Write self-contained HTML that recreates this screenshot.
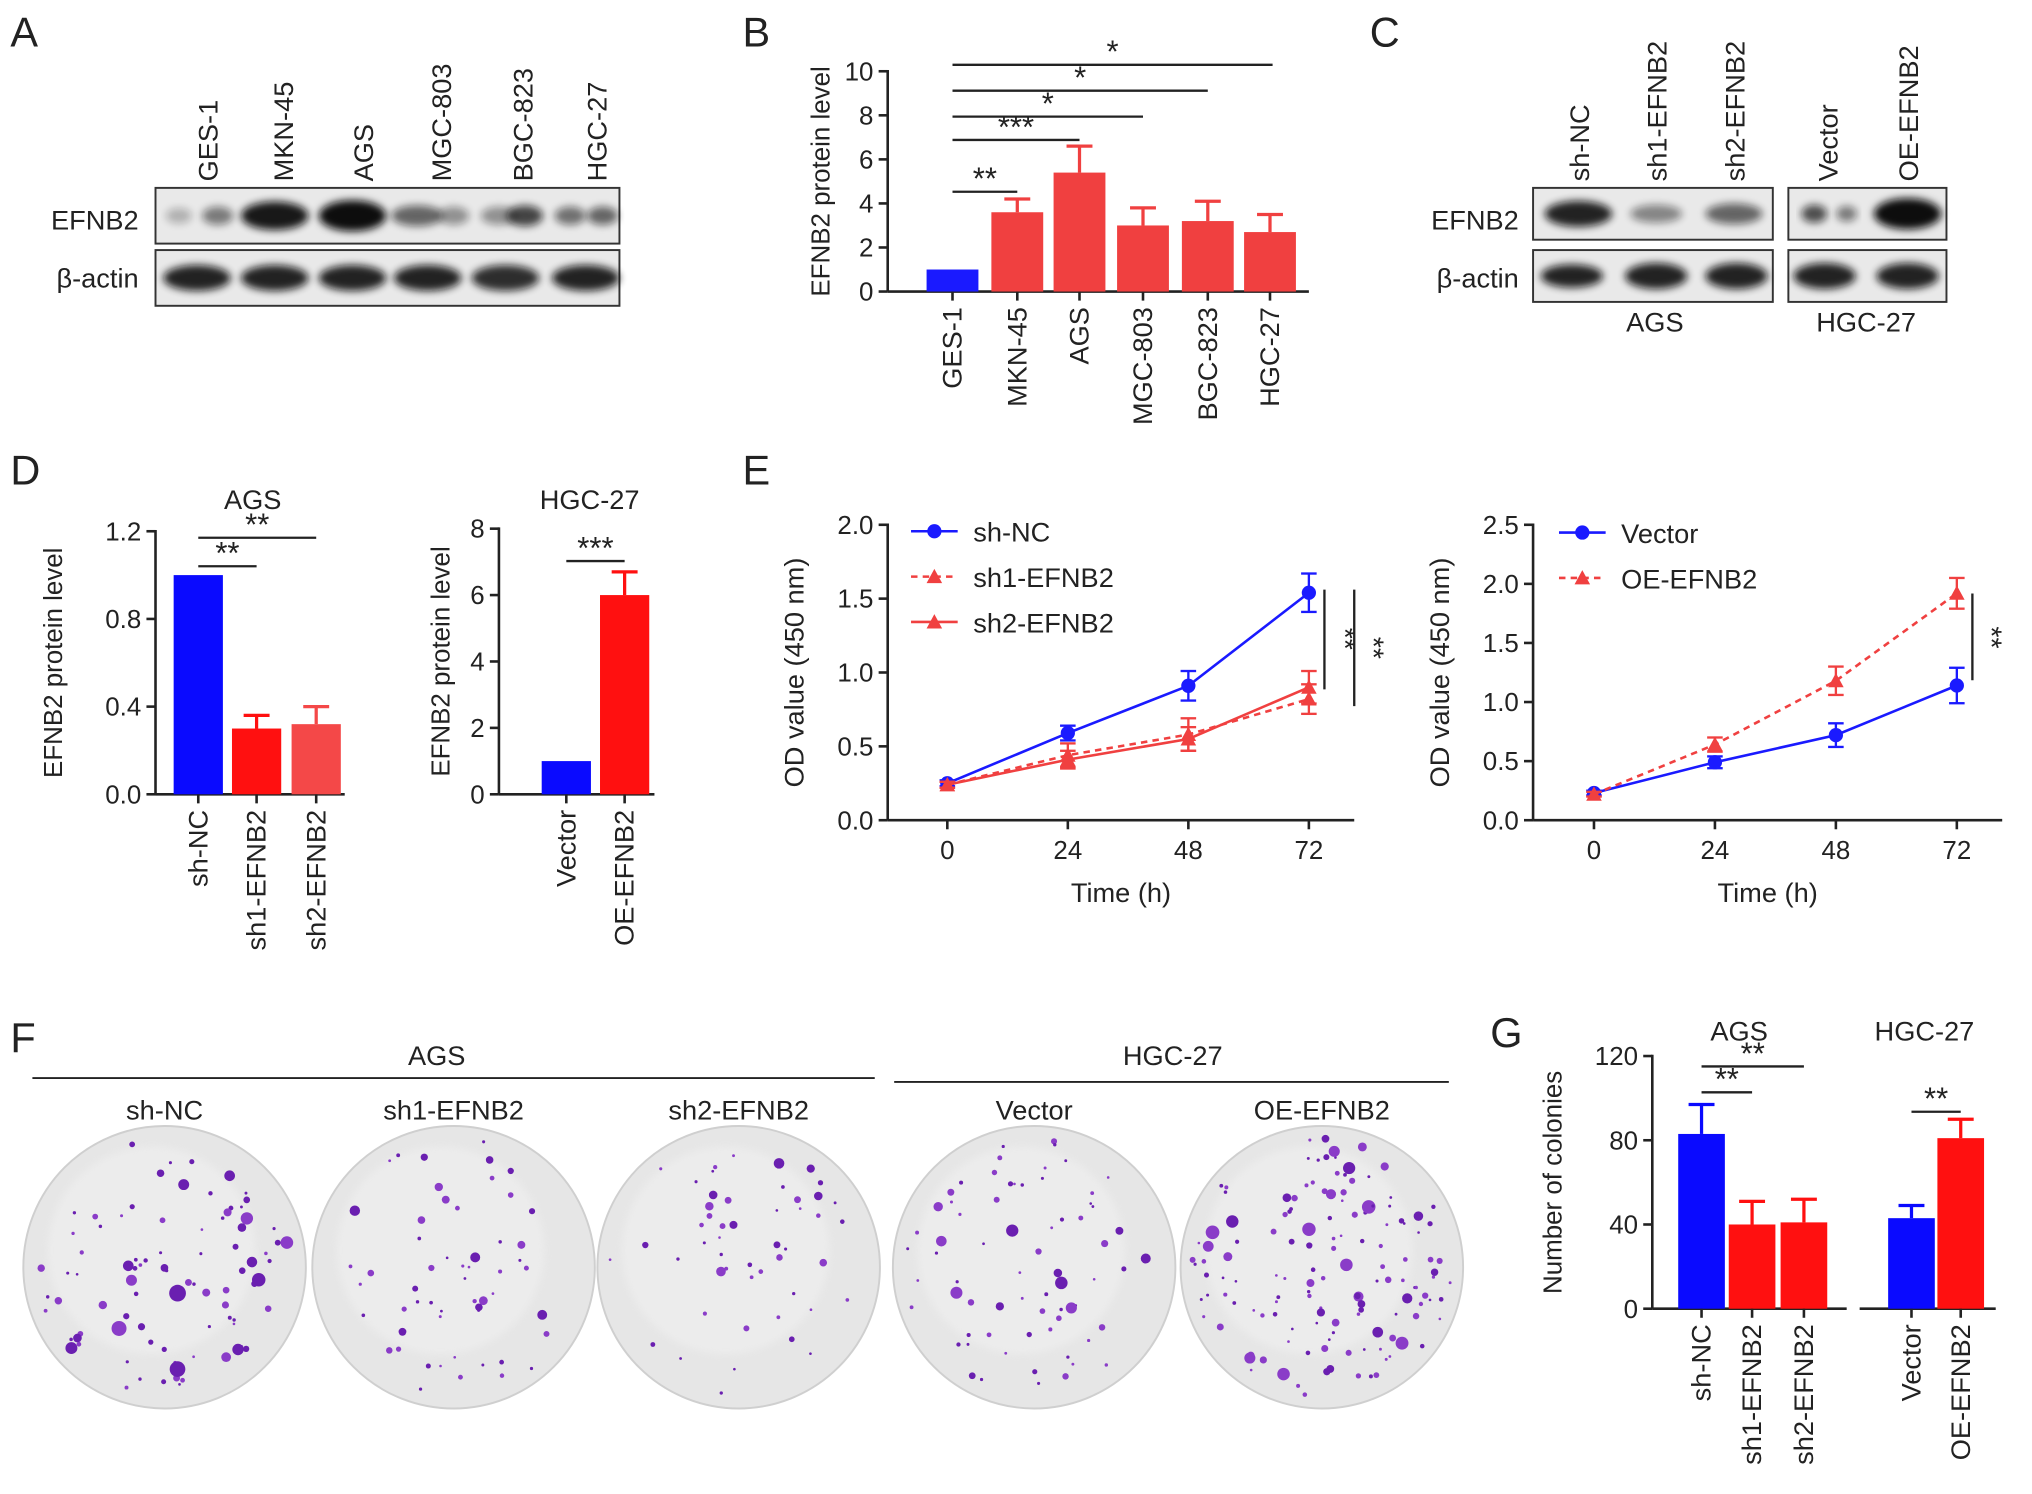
<!DOCTYPE html>
<html><head><meta charset="utf-8">
<style>
html,body{margin:0;padding:0;background:#fff;}
svg{display:block;font-family:"Liberation Sans",Arial,sans-serif;}
</style></head>
<body>
<svg id="fig" width="2032" height="1494" viewBox="0 0 1568 1153" preserveAspectRatio="none" xmlns="http://www.w3.org/2000/svg">
<defs>
<filter id="blur" x="-20%" y="-50%" width="140%" height="200%"><feGaussianBlur stdDeviation="3"/></filter>
<filter id="blur2"><feGaussianBlur stdDeviation="0.8"/></filter>
</defs>
</svg>
<script>
// ---- data ----
const bCats = ['GES-1','MKN-45','AGS','MGC-803','BGC-823','HGC-27'];
const bVals = [1.0, 3.6, 5.4, 3.0, 3.2, 2.7];
const bErrs = [0, 0.6, 1.2, 0.8, 0.9, 0.8];
const bTicks = [0,2,4,6,8,10];

const dAgsCats = ['sh-NC','sh1-EFNB2','sh2-EFNB2'];
const dAgsVals = [1.0, 0.30, 0.32];
const dAgsErrs = [0, 0.06, 0.08];
const dAgsTicks = ['0.0','0.4','0.8','1.2'];
const dHgcCats = ['Vector','OE-EFNB2'];
const dHgcVals = [1.0, 6.0];
const dHgcErrs = [0, 0.7];
const dHgcTicks = [0,2,4,6,8];

const eTimes = [0,24,48,72];
const eShNC = [0.25,0.59,0.91,1.54];
const eShNCErr = [0.02,0.05,0.10,0.13];
const eSh1 = [0.24,0.44,0.58,0.82];
const eSh1Err = [0.02,0.08,0.11,0.10];
const eSh2 = [0.24,0.41,0.55,0.90];
const eSh2Err = [0.02,0.06,0.08,0.11];
const eLeftTicks = ['0.0','0.5','1.0','1.5','2.0'];
const eVector = [0.23,0.49,0.72,1.14];
const eVectorErr = [0.02,0.05,0.10,0.15];
const eOE = [0.22,0.64,1.18,1.92];
const eOEErr = [0.02,0.06,0.12,0.13];
const eRightTicks = ['0.0','0.5','1.0','1.5','2.0','2.5'];

const gCats = ['sh-NC','sh1-EFNB2','sh2-EFNB2','Vector','OE-EFNB2'];
const gVals = [83, 40, 41, 43, 81];
const gErrs = [14, 11, 11, 6, 9];
const gTicks = [0,40,80,120];

const svg = document.getElementById('fig');
const NS = 'http://www.w3.org/2000/svg';
function mk(tag, attrs, name, parent){
  const el = document.createElementNS(NS, tag);
  for (const k in attrs) el.setAttribute(k, attrs[k]);
  
  
  (parent||svg).appendChild(el);
  return el;
}
function txt(x,y,s,size,name,opts){
  opts=opts||{};
  const a={x:x,y:y,'font-size':size,fill:'#222','text-anchor':opts.anchor||'middle'};
  if(opts.rot!==undefined) a.transform='rotate('+opts.rot+' '+x+' '+y+')';
  if(opts.weight) a['font-weight']=opts.weight;
  if(opts.base) a['dominant-baseline']=opts.base;
  const t=mk('text',a,name);
  t.textContent=s; return t;
}
function line(x1,y1,x2,y2,name,w,col,dash){
  const a={x1:x1,y1:y1,x2:x2,y2:y2,stroke:col||'#222','stroke-width':w||2};
  if(dash) a['stroke-dasharray']=dash;
  return mk('line',a,name);
}
function panelLetter(x,y,s){ txt(x,y,s,32,'panel-label-'+s.toLowerCase(),{anchor:'start'}); }

// ---- Panel letters ----
panelLetter(8,36,'A');panelLetter(573,36,'B');panelLetter(1057,36,'C');
panelLetter(8,374,'D');panelLetter(573,374,'E');panelLetter(8,812,'F');panelLetter(1150,808,'G');

// ---- Blot helper ----
function blot(x,y,w,h,bands,name){
  mk('rect',{x:x,y:y,width:w,height:h,fill:'#e9e9e9',stroke:'#333','stroke-width':1.5},name);
  bands.forEach((b,i)=>{
    const e=mk('ellipse',{cx:b[0],cy:y+h/2,rx:b[1],ry:b[2],fill:'#111',opacity:b[3],filter:'url(#blur)'},name+'-band');
  });
}
// Panel A
const aLabels=['GES-1','MKN-45','AGS','MGC-803','BGC-823','HGC-27'];
const aX=[160,218,280,340,403,460];
aLabels.forEach((s,i)=>txt(aX[i]+8,140,s,21,'blot-a-lane-label',{anchor:'start',rot:-90}));
txt(107,177,'EFNB2',21,'blot-a-efnb2-label',{anchor:'end'});
txt(107,222,'β-actin',21,'blot-a-actin-label',{anchor:'end'});
blot(120,145,358,43,[[138,10,6,0.25],[168,12,7,0.5],[212,26,11,0.95],[272,26,12,1],[322,20,8,0.6],[350,12,7,0.4],[385,14,7,0.4],[405,14,8,0.75],[440,12,7,0.55],[465,12,7,0.6]],'blot-a-efnb2');
blot(120,193,358,43,[[152,26,10,0.9],[212,26,10,0.9],[272,26,10,0.9],[330,26,10,0.9],[390,26,10,0.85],[452,26,10,0.9]],'blot-a-actin');

// Panel C
const cLabels=['sh-NC','sh1-EFNB2','sh2-EFNB2','Vector','OE-EFNB2'];
const cX=[1218,1278,1338,1410,1472];
cLabels.forEach((s,i)=>txt(cX[i]+8,140,s,21,'blot-c-lane-label',{anchor:'start',rot:-90}));
txt(1172,177,'EFNB2',21,'blot-c-efnb2-label',{anchor:'end'});
txt(1172,222,'β-actin',21,'blot-c-actin-label',{anchor:'end'});
blot(1183,145,185,40,[[1218,26,10,0.9],[1278,20,7,0.45],[1338,22,8,0.6]],'blot-c-efnb2-ags');
blot(1183,193,185,40,[[1213,24,9,0.9],[1278,24,10,0.9],[1340,24,10,0.9]],'blot-c-actin-ags');
blot(1380,145,122,40,[[1400,10,7,0.7],[1425,8,6,0.5],[1472,26,12,1]],'blot-c-efnb2-hgc');
blot(1380,193,122,40,[[1408,24,10,0.9],[1472,24,10,0.9]],'blot-c-actin-hgc');
txt(1277,256,'AGS',21,'blot-c-ags-label');
txt(1440,256,'HGC-27',21,'blot-c-hgc-label');

// ---- Bar chart helper ----
function barChart(o){
  const y=v=>o.y0-(v-o.vmin)/(o.vmax-o.vmin)*(o.y0-o.y1);
  line(o.ax,o.y1-1,o.ax,o.y0,o.name+'-y-axis',2);
  o.axisX.forEach(seg=>line(seg[0],o.y0,seg[1],o.y0,o.name+'-x-axis',2));
  o.ticks.forEach(t=>{
    const v=parseFloat(t);
    line(o.ax-7,y(v),o.ax,y(v),o.name+'-y-tick',2);
    txt(o.ax-11,y(v)+7,String(t),20,o.name+'-y-tick-label',{anchor:'end'});
  });
  o.vals.forEach((v,i)=>{
    const cx=o.cx[i];
    if(o.errs[i]>0){
      line(cx,y(v),cx,y(v+o.errs[i]),o.name+'-error-bar',2.5,o.colors[i]);
      line(cx-10,y(v+o.errs[i]),cx+10,y(v+o.errs[i]),o.name+'-error-cap',2.5,o.colors[i]);
    }
    mk('rect',{x:cx-o.bw/2,y:y(v),width:o.bw,height:o.y0-y(v),fill:o.colors[i]},o.name+'-bar-'+o.cats[i].toLowerCase());
    line(cx,o.y0,cx,o.y0+7,o.name+'-x-tick',2);
    txt(cx+7,o.y0+12,o.cats[i],21,o.name+'-x-label',{anchor:'end',rot:-90});
  });
  txt(o.titleX,(o.y0+o.y1)/2,o.yTitle,20,o.name+'-y-axis-title',{rot:-90});
  return y;
}
function sig(x1,x2,yy,s,name){
  line(x1,yy,x2,yy,name,1.8);
  txt((x1+x2)/2,yy-2,s,24,name+'-stars');
}

// Panel B
barChart({name:'chart-b',ax:685,y0:225,y1:55,vmin:0,vmax:10,ticks:bTicks,axisX:[[685,1010]],
  cats:bCats,vals:bVals,errs:bErrs,cx:[735,785,833,882,932,980],bw:40,
  colors:['#1a1aff','#f04040','#f04040','#f04040','#f04040','#f04040'],yTitle:'EFNB2 protein level',titleX:640});
sig(735,785,148,'**','sig-b-mkn45');sig(735,833,108,'***','sig-b-ags');sig(735,882,90,'*','sig-b-mgc803');
sig(735,932,70,'*','sig-b-bgc823');sig(735,982,50,'*','sig-b-hgc27');

// Panel D
barChart({name:'chart-d-ags',ax:120,y0:613,y1:410,vmin:0,vmax:1.2,ticks:dAgsTicks,axisX:[[120,266]],
  cats:dAgsCats,vals:dAgsVals,errs:dAgsErrs,cx:[153,198,244],bw:38,
  colors:['#0a0aff','#ff1010','#f44848'],yTitle:'EFNB2 protein level',titleX:48});
txt(195,393,'AGS',21,'chart-d-ags-title');
sig(153,198,437,'**','sig-d-sh1');sig(153,244,415,'**','sig-d-sh2');
barChart({name:'chart-d-hgc',ax:385,y0:613,y1:408,vmin:0,vmax:8,ticks:dHgcTicks,axisX:[[385,505]],
  cats:dHgcCats,vals:dHgcVals,errs:dHgcErrs,cx:[437,482],bw:38,
  colors:['#0a0aff','#ff1010'],yTitle:'EFNB2 protein level',titleX:347});
txt(455,393,'HGC-27',21,'chart-d-hgc-title');
sig(437,482,433,'***','sig-d-oe');

// Panel G
barChart({name:'chart-g',ax:1275,y0:1010,y1:815,vmin:0,vmax:120,ticks:gTicks,axisX:[[1275,1425],[1435,1540]],
  cats:gCats,vals:gVals,errs:gErrs,cx:[1313,1352,1392,1475,1513],bw:36,
  colors:['#0a0aff','#ff1010','#ff1010','#0a0aff','#ff1010'],yTitle:'Number of colonies',titleX:1205});
txt(1342,803,'AGS',21,'chart-g-ags-title');txt(1485,803,'HGC-27',21,'chart-g-hgc-title');
sig(1313,1352,843,'**','sig-g-sh1');sig(1313,1392,823,'**','sig-g-sh2');sig(1475,1513,858,'**','sig-g-oe');

// ---- Line chart helper ----
function lineChart(o){
  const y=v=>o.y0-v/o.vmax*(o.y0-o.y1);
  const x=t=>o.x0+(t/72)*(o.x72-o.x0);
  line(o.ax,o.y1-1,o.ax,o.y0,o.name+'-y-axis',2);
  line(o.ax,o.y0,o.axEnd,o.y0,o.name+'-x-axis',2);
  o.ticks.forEach(t=>{const v=parseFloat(t);line(o.ax-7,y(v),o.ax,y(v),o.name+'-y-tick',2);
    txt(o.ax-11,y(v)+7,t,20,o.name+'-y-tick-label',{anchor:'end'});});
  eTimes.forEach(t=>{line(x(t),o.y0,x(t),o.y0+7,o.name+'-x-tick',2);txt(x(t),o.y0+30,String(t),20,o.name+'-x-tick-label');});
  txt((o.ax+o.axEnd)/2,o.y0+63,'Time (h)',21,o.name+'-x-axis-title');
  txt(o.ax-65,(o.y0+o.y1)/2,'OD value (450 nm)',21,o.name+'-y-axis-title',{rot:-90});
  o.series.forEach((s,si)=>{
    const pts=s.vals.map((v,i)=>x(eTimes[i])+','+y(v)).join(' ');
    const a={points:pts,fill:'none',stroke:s.color,'stroke-width':2};
    if(s.dash)a['stroke-dasharray']='5,4';
    mk('polyline',a,o.name+'-line-'+s.key);
    s.vals.forEach((v,i)=>{
      const cx=x(eTimes[i]),e=s.errs[i];
      line(cx,y(v-e),cx,y(v+e),o.name+'-error-bar',1.8,s.color);
      line(cx-6,y(v+e),cx+6,y(v+e),o.name+'-error-cap',1.8,s.color);
      line(cx-6,y(v-e),cx+6,y(v-e),o.name+'-error-cap',1.8,s.color);
      if(s.marker==='c') mk('circle',{cx:cx,cy:y(v),r:5.5,fill:s.color},o.name+'-point-'+s.key);
      else mk('polygon',{points:(cx)+','+(y(v)-6)+' '+(cx-6)+','+(y(v)+5)+' '+(cx+6)+','+(y(v)+5),fill:s.color},o.name+'-point-'+s.key);
    });
    const ly=o.legY+si*35;
    const la={x1:o.legX,y1:ly,x2:o.legX+36,y2:ly,stroke:s.color,'stroke-width':2};
    if(s.dash)la['stroke-dasharray']='5,4';
    mk('line',la,'legend-line-'+s.key);
    if(s.marker==='c') mk('circle',{cx:o.legX+18,cy:ly,r:5.5,fill:s.color},'legend-marker-'+s.key);
    else mk('polygon',{points:(o.legX+18)+','+(ly-6)+' '+(o.legX+12)+','+(ly+5)+' '+(o.legX+24)+','+(ly+5),fill:s.color},'legend-marker-'+s.key);
    txt(o.legX+48,ly+8,s.label,21,'legend-entry-'+s.key,{anchor:'start'});
  });
}
lineChart({name:'chart-e-ags',ax:685,axEnd:1045,y0:633,y1:405,vmax:2.0,x0:731,x72:1010,ticks:eLeftTicks,legX:703,legY:410,
  series:[{key:'sh-nc',label:'sh-NC',vals:eShNC,errs:eShNCErr,color:'#1a1aff',marker:'c'},
          {key:'sh1-efnb2',label:'sh1-EFNB2',vals:eSh1,errs:eSh1Err,color:'#f04040',marker:'t',dash:true},
          {key:'sh2-efnb2',label:'sh2-EFNB2',vals:eSh2,errs:eSh2Err,color:'#f04040',marker:'t'}]});
line(1022,455,1022,532,'sig-e-sh2',1.8);txt(1036,493,'**',22,'sig-e-sh2-stars',{rot:90,base:'middle'});
line(1045,455,1045,545,'sig-e-sh1',1.8);txt(1058,500,'**',22,'sig-e-sh1-stars',{rot:90,base:'middle'});
lineChart({name:'chart-e-hgc',ax:1183,axEnd:1545,y0:633,y1:405,vmax:2.5,x0:1230,x72:1510,ticks:eRightTicks,legX:1203,legY:411,
  series:[{key:'vector',label:'Vector',vals:eVector,errs:eVectorErr,color:'#1a1aff',marker:'c'},
          {key:'oe-efnb2',label:'OE-EFNB2',vals:eOE,errs:eOEErr,color:'#f04040',marker:'t',dash:true}]});
line(1522,458,1522,525,'sig-e-oe',1.8);txt(1535,492,'**',22,'sig-e-oe-stars',{rot:90,base:'middle'});

// ---- Panel F plates ----
txt(337,822,'AGS',21,'plates-ags-title');line(25,832,675,832,'plates-ags-line',1.5);
txt(905,822,'HGC-27',21,'plates-hgc-title');line(690,835,1118,835,'plates-hgc-line',1.5);
const plateLabels=['sh-NC','sh1-EFNB2','sh2-EFNB2','Vector','OE-EFNB2'];
const plateX=[127,350,570,798,1020];
const plateDots=[90,55,50,70,140];
const plateSize=[6,3.5,3.5,4.5,5];
let seed=7;function rnd(){seed=(seed*9301+49297)%233280;return seed/233280;}
plateLabels.forEach((s,i)=>{
  txt(plateX[i],864,s,21,'plate-label');
  mk('circle',{cx:plateX[i],cy:978,r:109,fill:'#e6e6e6',stroke:'#cfcfcf','stroke-width':1.5},'plate-'+s.toLowerCase());
  mk('circle',{cx:plateX[i]-10,cy:965,r:80,fill:'#efefef',opacity:0.7,filter:'url(#blur)'},'plate-highlight');
  for(let k=0;k<plateDots[i];k++){
    const a=rnd()*Math.PI*2,r=Math.sqrt(rnd())*100;
    const rr=1+rnd()*rnd()*plateSize[i];
    mk('circle',{cx:plateX[i]+r*Math.cos(a),cy:978+r*Math.sin(a),r:rr,fill:rnd()<0.5?'#6a1fb0':'#8a3cc8'},'colony');
  }
});
</script>
</body></html>
